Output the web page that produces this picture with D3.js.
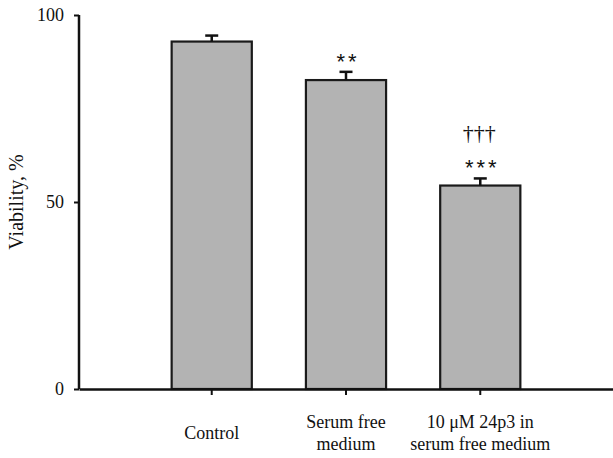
<!DOCTYPE html>
<html>
<head>
<meta charset="utf-8">
<script src="https://cdnjs.cloudflare.com/ajax/libs/d3/7.8.5/d3.min.js"></script>
<style>
  html, body { margin: 0; padding: 0; background: #fff; }
  svg { display: block; }
</style>
</head>
<body>
<div id="chart"></div>
<script>
// ---- data ----
const categories = ["Control", "Serum free medium", "10 μM 24p3 in serum free medium"];
const categoryLines = [["Control"], ["Serum free", "medium"], ["10 μM 24p3 in", "serum free medium"]];
const values = [92.9, 82.6, 54.4];
const errors = [1.6, 2.2, 1.9];
const stars = ["", "**", "***"];
const daggers = ["", "", "†††"];
const yTicks = [0, 50, 100];
const yLabel = "Viability, %";

// ---- layout ----
const W = 613, H = 458;
const svg = d3.select("#chart").append("svg").attr("width", W).attr("height", H);
const serif = "'Liberation Serif', 'Times New Roman', serif";

const x = d3.scaleBand().domain(categories).range([79, 613])
  .paddingInner(0.403).paddingOuter(0.69).align(0.5);
const y = d3.scaleLinear().domain([0, 100]).range([389, 15]);

const data = categories.map((c, i) => ({c, v: values[i], e: errors[i], s: stars[i], d: daggers[i], lines: categoryLines[i]}));

// bars
svg.append("g").selectAll("rect").data(data).join("rect")
  .attr("x", d => x(d.c))
  .attr("y", d => y(d.v))
  .attr("width", x.bandwidth())
  .attr("height", d => y(0) - y(d.v))
  .attr("fill", "#b3b3b3")
  .attr("stroke", "#1a1a1a")
  .attr("stroke-width", 2.2);

// error bars (upper only)
const eg = svg.append("g").attr("stroke", "#111").attr("stroke-width", 2.5);
eg.selectAll("line.v").data(data).join("line").attr("class", "v")
  .attr("x1", d => x(d.c) + x.bandwidth() / 2)
  .attr("x2", d => x(d.c) + x.bandwidth() / 2)
  .attr("y1", d => y(d.v))
  .attr("y2", d => y(d.v + d.e));
eg.selectAll("line.cap").data(data).join("line").attr("class", "cap")
  .attr("x1", d => x(d.c) + x.bandwidth() / 2 - 6.5)
  .attr("x2", d => x(d.c) + x.bandwidth() / 2 + 6.5)
  .attr("y1", d => y(d.v + d.e))
  .attr("y2", d => y(d.v + d.e));

// significance stars
svg.append("g").selectAll("text").data(data.filter(d => d.s)).join("text")
  .attr("x", d => x(d.c) + x.bandwidth() / 2 + 2)
  .attr("y", d => y(d.v + d.e) - 3)
  .attr("text-anchor", "middle")
  .attr("font-family", "'Liberation Sans', Arial, sans-serif")
  .attr("font-size", 22)
  .attr("letter-spacing", 3)
  .attr("fill", "#111")
  .text(d => d.s);

// daggers
svg.append("g").selectAll("text").data(data.filter(d => d.d)).join("text")
  .attr("x", d => x(d.c) + x.bandwidth() / 2 - 1)
  .attr("y", d => y(d.v + d.e) - 38)
  .attr("text-anchor", "middle")
  .attr("font-family", serif)
  .attr("font-size", 22)
  .attr("fill", "#111")
  .text(d => d.d);

// y axis
const yAxis = svg.append("g").attr("transform", "translate(79,0)")
  .call(d3.axisLeft(y).tickValues(yTicks).tickSize(5).tickPadding(10).tickFormat(d3.format("d")));
yAxis.select(".domain").attr("stroke", "#111").attr("stroke-width", 2.5).attr("d", `M0,${y(100)}V${y(0)}`);
yAxis.selectAll(".tick line").attr("stroke", "#111").attr("stroke-width", 2);
yAxis.selectAll(".tick text").attr("font-family", serif).attr("font-size", 18).attr("fill", "#111");

// x axis
const xAxis = svg.append("g").attr("transform", `translate(0,${y(0)})`)
  .call(d3.axisBottom(x).tickSize(6).tickSizeOuter(0).tickFormat(""));
xAxis.select(".domain").attr("stroke", "#111").attr("stroke-width", 2.5);
xAxis.selectAll(".tick line").attr("stroke", "#111").attr("stroke-width", 2);

// x labels (multi-line)
const lbl = svg.append("g").selectAll("text").data(data).join("text")
  .attr("text-anchor", "middle")
  .attr("font-family", serif)
  .attr("font-size", 18)
  .attr("fill", "#111");
lbl.each(function(d) {
  const t = d3.select(this);
  const cx = x(d.c) + x.bandwidth() / 2;
  const n = d.lines.length;
  const base = 439 - (n - 1) * 11;
  d.lines.forEach((ln, i) => {
    t.append("tspan").attr("x", cx).attr("y", base + i * 22).text(ln);
  });
});

// y label
svg.append("text")
  .attr("transform", `translate(23,${(y(0) + y(100)) / 2}) rotate(-90)`)
  .attr("text-anchor", "middle")
  .attr("font-family", serif)
  .attr("font-size", 20)
  .attr("fill", "#111")
  .text(yLabel);
</script>
</body>
</html>
